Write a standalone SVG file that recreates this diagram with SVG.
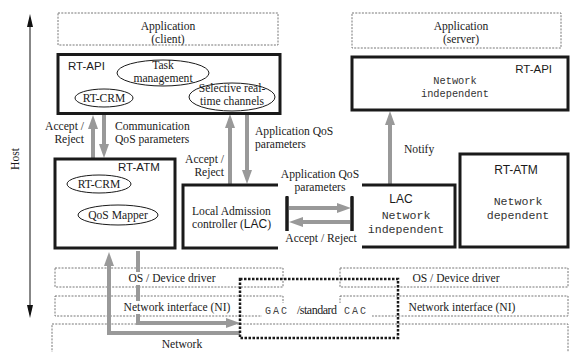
<svg xmlns="http://www.w3.org/2000/svg" width="570" height="352" viewBox="0 0 570 352">
<defs>
<style>
.serif{font-family:"Liberation Serif","Times New Roman",serif;font-size:11.6px;fill:#1a1a1a}
.sans{font-family:"Liberation Sans",Arial,sans-serif;font-size:11.5px;fill:#1a1a1a}
.mono{font-family:"Liberation Mono","Courier New",monospace;font-size:11.6px;fill:#333}
.mid{text-anchor:middle}
.end{text-anchor:end}
.thick{fill:#fff;stroke:#1a1a1a;stroke-width:3}
.dash{fill:none;stroke:#666;stroke-width:0.9;stroke-dasharray:2,1.3}
.ell{fill:#fff;stroke:#1a1a1a;stroke-width:1}
.garr{fill:none;stroke:#999;stroke-width:4;marker-end:url(#gh)}
.wbg{fill:#fff;stroke:none}
</style>
<marker id="gh" markerUnits="userSpaceOnUse" markerWidth="14" markerHeight="10" refX="1" refY="5" orient="auto">
<path d="M0,0 L14,5 L0,10 z" fill="#999"/>
</marker>
</defs>

<!-- Host axis -->
<g id="host">
<line x1="30" y1="26" x2="30" y2="306" stroke="#111" stroke-width="1"/>
<polygon points="27,27 33,27 30,14" fill="#111"/>
<polygon points="27,305 33,305 30,318" fill="#111"/>
<text class="serif mid" transform="translate(19,159) rotate(-90)">Host</text>
</g>

<!-- Bottom layers -->
<g id="network">
<rect class="dash" x="52" y="324" width="516" height="40"/>
</g>
<g id="os-left">
<rect class="dash" x="55" y="268" width="228" height="19"/>
</g>
<g id="os-right">
<rect class="dash" x="340" y="268" width="228" height="19"/>
<text class="serif mid" x="456" y="282">OS / Device driver</text>
</g>
<g id="ni-left">
<rect class="dash" x="55" y="296" width="228" height="20"/>
</g>
<g id="ni-right">
<rect class="dash" x="340" y="296" width="228" height="20"/>
<text class="serif mid" x="462" y="311">Network interface (NI)</text>
</g>

<!-- Connectors -->
<g id="connectors">
<line class="garr" x1="93" y1="158" x2="93" y2="128"/>
<line class="garr" x1="104" y1="115" x2="104" y2="145"/>
<line class="garr" x1="230" y1="184" x2="230" y2="127"/>
<line class="garr" x1="247" y1="114" x2="247" y2="171"/>
<line class="garr" x1="390" y1="184" x2="390" y2="124"/>
<path class="garr" d="M240,333 L109,333 L109,265"/>
<path class="garr" d="M138,251 L138,323 L227,323"/>
</g>

<!-- text backgrounds over connectors -->
<g id="os-left-label">
<rect class="wbg" x="126" y="272" width="93" height="13"/>
<text class="serif mid" x="172" y="282">OS / Device driver</text>
</g>
<g id="ni-left-label">
<rect class="wbg" x="120" y="301" width="114" height="13"/>
<text class="serif mid" x="177" y="311">Network interface (NI)</text>
</g>
<g id="network-label">
<text class="serif mid" x="182" y="348">Network</text>
</g>

<!-- Applications -->
<g id="app-client">
<rect class="dash" x="58" y="13" width="220" height="32"/>
<text class="serif mid" x="168" y="30">Application</text>
<text class="serif mid" x="168" y="43">(client)</text>
</g>
<g id="app-server">
<rect class="dash" x="352" y="13" width="209" height="35"/>
<text class="serif mid" x="461" y="30">Application</text>
<text class="serif mid" x="461" y="43">(server)</text>
</g>

<!-- RT-API client -->
<g id="rtapi-left">
<rect class="thick" x="58" y="54.5" width="222" height="59"/>
<text class="sans" x="68" y="70">RT-API</text>
<ellipse class="ell" cx="163" cy="73" rx="46" ry="13"/>
<text class="serif mid" x="163" y="69">Task</text>
<text class="serif mid" x="163" y="82">management</text>
<ellipse class="ell" cx="232" cy="97" rx="43" ry="14"/>
<text class="serif mid" x="232" y="92">Selective real-</text>
<text class="serif mid" x="232" y="105">time channels</text>
<ellipse class="ell" cx="104" cy="98" rx="29" ry="9"/>
<text class="serif mid" x="104" y="102">RT-CRM</text>
</g>

<!-- RT-API server -->
<g id="rtapi-right">
<rect class="thick" x="352" y="57" width="216" height="53"/>
<text class="sans end" x="552" y="73">RT-API</text>
<text class="mono mid" x="455" y="84" style="font-size:10.3px">Network</text>
<text class="mono mid" x="455" y="97" style="font-size:10.3px">independent</text>
</g>

<!-- connector labels -->
<g id="labels">
<text class="serif end" x="84" y="130">Accept /</text>
<text class="serif end" x="84" y="143">Reject</text>
<text class="serif" x="115" y="130">Communication</text>
<text class="serif" x="115" y="143">QoS parameters</text>
<text class="serif end" x="224" y="163">Accept /</text>
<text class="serif end" x="224" y="176">Reject</text>
<text class="serif" x="255" y="135">Application QoS</text>
<text class="serif" x="255" y="148">parameters</text>
<text class="serif" x="404" y="153">Notify</text>
</g>

<!-- RT-ATM client -->
<g id="rtatm-left">
<rect class="thick" x="55" y="159" width="120" height="89"/>
<text class="sans" x="118" y="171">RT-ATM</text>
<ellipse class="ell" cx="99" cy="184" rx="32" ry="9"/>
<text class="serif mid" x="99" y="188">RT-CRM</text>
<ellipse class="ell" cx="118" cy="215" rx="40" ry="10"/>
<text class="serif mid" x="118" y="219">QoS Mapper</text>
</g>

<!-- Local Admission controller -->
<g id="lac-left">
<rect class="thick" x="183" y="185" width="104" height="63"/>
<text class="serif" x="192" y="215">Local Admission</text>
<text class="serif" x="192" y="228">controller (<tspan class="sans" style="font-size:12px">LAC</tspan>)</text>
</g>

<!-- LAC network independent -->
<g id="lac-right">
<rect class="thick" x="352" y="185" width="103" height="62"/>
<text class="sans mid" x="401" y="203" style="font-size:12px">LAC</text>
<text class="mono mid" x="406" y="219">Network</text>
<text class="mono mid" x="406" y="233">independent</text>
</g>

<!-- RT-ATM server -->
<g id="rtatm-right">
<rect class="thick" x="460" y="154" width="108" height="93"/>
<text class="sans mid" x="516" y="174" style="font-size:12px">RT-ATM</text>
<text class="mono mid" x="518" y="205">Network</text>
<text class="mono mid" x="518" y="219">dependent</text>
</g>

<!-- LAC-LAC exchange -->
<g id="lac-exchange">
<rect class="wbg" x="278" y="167" width="84" height="29"/>
<rect class="wbg" x="278" y="231" width="84" height="19"/>
<text class="serif mid" x="320" y="178">Application QoS</text>
<text class="serif mid" x="320" y="191">parameters</text>
<text class="serif mid" x="321" y="242">Accept / Reject</text>
<line x1="287" y1="197" x2="287" y2="231" stroke="#1a1a1a" stroke-width="3"/>
<line x1="352" y1="197" x2="352" y2="231" stroke="#1a1a1a" stroke-width="3"/>
<line class="garr" x1="289" y1="208" x2="338" y2="208"/>
<line class="garr" x1="350" y1="222" x2="302" y2="222"/>
</g>

<!-- GAC -->
<g id="gac">
<rect class="wbg" x="262" y="303" width="110" height="14"/>
<rect x="240" y="279" width="158" height="59" fill="none" stroke="#1a1a1a" stroke-width="2.5" stroke-dasharray="2.5,1.5"/>
<text y="314" style="font-family:'Liberation Mono','Courier New',monospace;font-size:10px;fill:#444"><tspan x="265" letter-spacing="2">GAC </tspan><tspan x="297" class="serif" style="font-size:12px" letter-spacing="-0.5">/standard </tspan><tspan x="344" letter-spacing="2">CAC</tspan></text>
</g>
</svg>
